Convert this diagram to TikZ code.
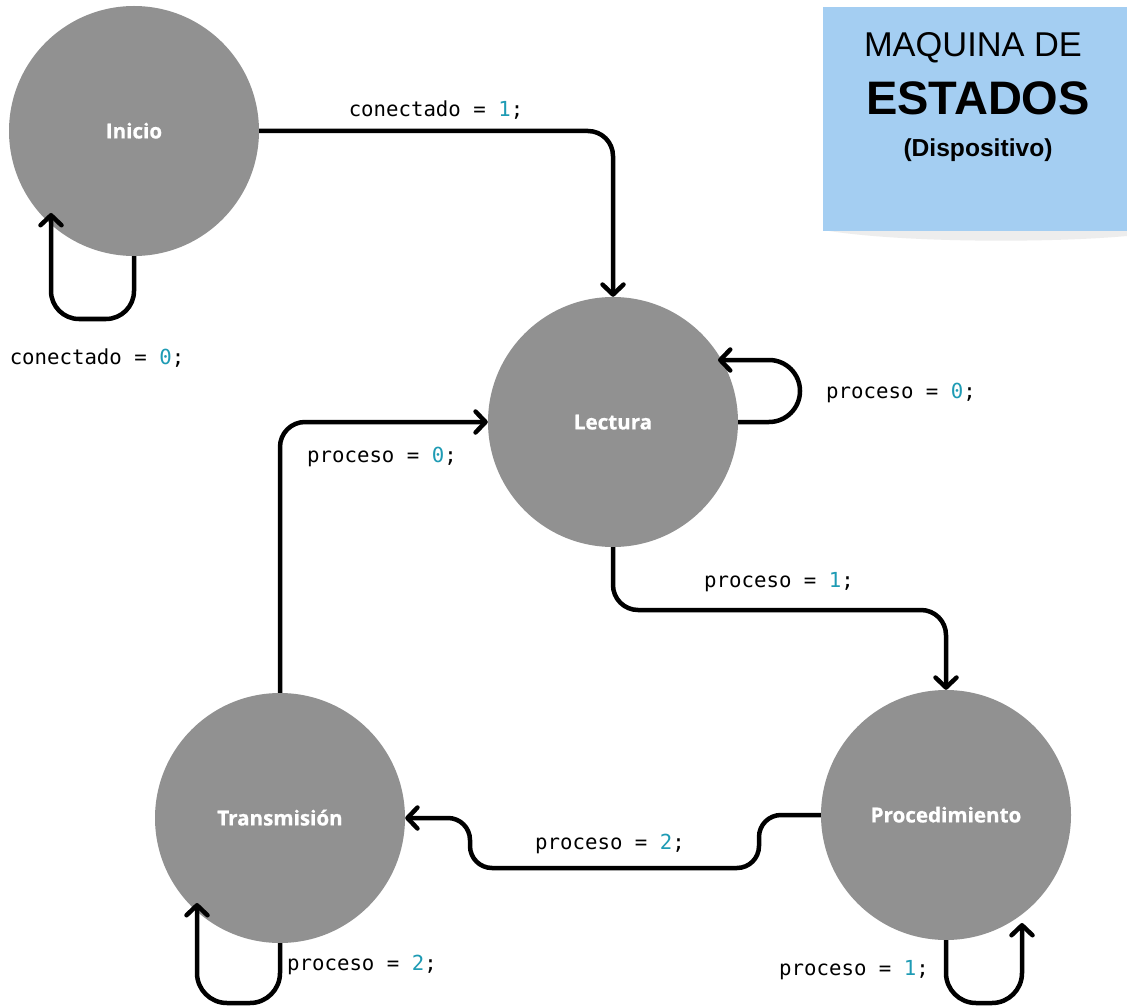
\documentclass[tikz,border=0pt]{standalone}
\usepackage{fontspec}
\usetikzlibrary{arrows.meta}
\newfontfamily\statefont{Open Sans}[BoldFeatures={FakeBold=0.8}]
\newfontfamily\codefont{DejaVu Sans Mono}
\newfontfamily\titlefont{Liberation Sans}
\definecolor{stategray}{RGB}{145,145,145}
\definecolor{titleblue}{RGB}{164,206,242}
\definecolor{numcyan}{RGB}{30,155,180}
\newcommand{\num}[1]{\textcolor{numcyan}{#1}}
\tikzset{
  state/.style={circle, fill=stategray, minimum size=250pt, inner sep=0pt, text=white,
    font=\statefont\bfseries\fontsize{20.6}{20.6}\selectfont, text height=14.8pt, text depth=0pt},
  lbl/.style={inner sep=0pt, font=\codefont\fontsize{20.7}{20.7}\selectfont, text height=11pt, text depth=0pt},
  conn/.style={line width=4.5pt, rounded corners=25pt,
    -{Straight Barb[length=10pt,width=21pt,line cap=round,line join=round]}},
  titletxt/.style={inner sep=0pt, text depth=0pt}
}
\begin{document}
\begin{tikzpicture}[x=1pt,y=-1pt]
\useasboundingbox (0,0) rectangle (1127,1008);
\fill[white] (0,0) rectangle (1127,1008);

% title box
\fill[black!7] (823,230) .. controls (900,243) and (1050,243) .. (1127,236) -- (1127,230) -- cycle;
\fill[titleblue] (823,7) rectangle (1127,231);
\node[titletxt, font=\titlefont\fontsize{34.4}{34.4}\selectfont, text height=24.6pt] (t1) at (973,44) {MAQUINA DE};
\node[titletxt, font=\titlefont\bfseries\fontsize{47}{47}\selectfont, text height=33.6pt] (t2) at (978,98) {ESTADOS};
\node[titletxt, font=\titlefont\bfseries\fontsize{24.6}{24.6}\selectfont, text height=17.6pt] (t3) at (978,148) {(Dispositivo)};

% states
\node[state] (ini) at (134,131) {Inicio};
\node[state] (lec) at (613,422) {Lectura};
\node[state] (tra) at (280,818) {Transmisión};
\node[state] (pro) at (946,815) {Procedimiento};

% transitions
\draw[conn] (ini.east) -| (lec.north);
\draw[conn, rounded corners=28pt] (ini.south) -- (134,319) -- (51,319) -- (51,213);
\draw[conn, rounded corners=31pt] (lec.east) -- (800,422) -- (800,360) -- (718,360);
\draw[conn] (lec.south) -- (613,610) -| (pro.north);
\draw[conn, rounded corners=22pt] (pro.west) -- (759,815) -- (759,868) -- (470,868) -- (470,818) -- (tra.east);
\draw[conn] (tra.north) |- (lec.west);
\draw[conn, rounded corners=30pt] (tra.south) -- (280,1003) -- (197,1003) -- (197,903);
\draw[conn, rounded corners=30pt] (pro.south) -- (946,1003) -- (1022,1003) -- (1022,923);

% labels
\node[lbl] (l1) at (436,111) {conectado = \num{1};};
\node[lbl] (l2) at (97,359) {conectado = \num{0};};
\node[lbl] (l3) at (901,393) {proceso = \num{0};};
\node[lbl] (l4) at (382,457) {proceso = \num{0};};
\node[lbl] (l5) at (779,582) {proceso = \num{1};};
\node[lbl] (l6) at (610,844) {proceso = \num{2};};
\node[lbl] (l7) at (362,965) {proceso = \num{2};};
\node[lbl] (l8) at (854,970) {proceso = \num{1};};
\end{tikzpicture}
\end{document}
